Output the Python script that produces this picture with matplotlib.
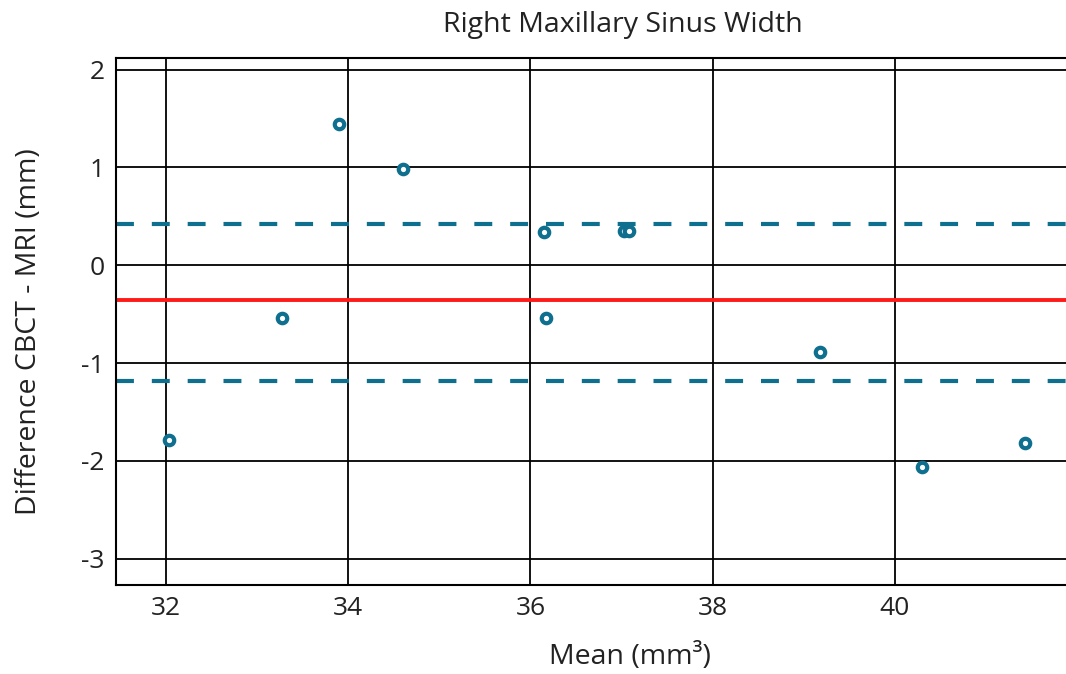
import matplotlib.pyplot as plt

plt.rcParams['font.family'] = ['Open Sans', 'DejaVu Sans']
plt.rcParams['axes.unicode_minus'] = False

mean_vals = [32.03, 33.27, 33.90, 34.60, 36.15, 36.17, 37.03, 37.08, 39.18, 40.30, 41.43]
diff_vals = [-1.79, -0.54, 1.44, 0.98, 0.34, -0.54, 0.35, 0.35, -0.89, -2.06, -1.82]
bias = -0.36
loa_upper = 0.42
loa_lower = -1.18

xticks = [32, 34, 36, 38, 40]
yticks = [-3, -2, -1, 0, 1, 2]

blue = '#0f6f8f'

fig = plt.figure(figsize=(10.66, 6.74), dpi=100)
ax = fig.add_axes([0.1088, 0.132, 0.8912, 0.782])

ax.set_xlim(31.45, 41.88)
ax.set_ylim(-3.27, 2.12)
ax.set_xticks(xticks)
ax.set_yticks(yticks)
ax.grid(True, color='black', linewidth=1.3)
ax.set_axisbelow(True)
ax.tick_params(length=0, labelsize=19, pad=8, labelcolor='#222222')

ax.axhline(bias, color='#ff1a1a', linewidth=2.8)
ax.axhline(loa_upper, color=blue, linewidth=3, dashes=(4.3, 4.3))
ax.axhline(loa_lower, color=blue, linewidth=3, dashes=(4.3, 4.3))

ax.plot(mean_vals, diff_vals, 'o', markersize=6.8, markerfacecolor='white',
        markeredgecolor=blue, markeredgewidth=3.0, linestyle='none')

for s in ['left', 'bottom', 'top']:
    ax.spines[s].set_linewidth(1.5)
ax.spines['right'].set_visible(False)

ax.set_title('Right Maxillary Sinus Width', fontsize=20.5, pad=19, color='#222222', x=0.534)
ax.set_xlabel('Mean (mm\u00b3)', fontsize=20.5, color='#222222')
ax.xaxis.set_label_coords(0.541, -0.11)
ax.set_ylabel('Difference CBCT - MRI (mm)', fontsize=20.5, color='#222222')
ax.yaxis.set_label_coords(-0.077, 0.48)

fig.savefig('out.png', dpi=100)
